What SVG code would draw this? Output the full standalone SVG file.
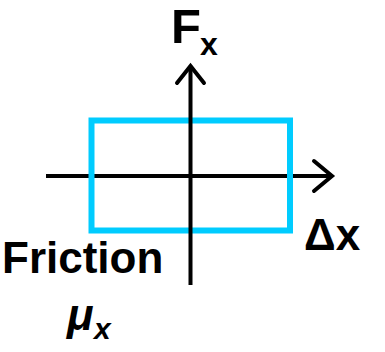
<svg xmlns="http://www.w3.org/2000/svg" width="385" height="352" viewBox="0 0 385 352">
<style>
.ax{stroke:#000;stroke-width:4;fill:none;stroke-linecap:butt}
.hd{stroke:#000;stroke-width:4;fill:none;stroke-linecap:round;stroke-linejoin:miter}
.t{font-family:"Liberation Sans",Arial,sans-serif;font-weight:bold;fill:#000}
</style>
<rect width="385" height="352" fill="#fff"/>
<g id="connectors">
<line class="ax" x1="46" y1="176" x2="331" y2="176"/>
<polyline class="hd" points="314,161 332,176 314,191"/>
</g>
<g id="box">
<rect x="91.5" y="120.5" width="198.5" height="110" fill="none" stroke="#00CCFF" stroke-width="6"/>
</g>
<g id="vaxis">
<line class="ax" x1="190.5" y1="67" x2="190.5" y2="285"/>
<polyline class="hd" points="177,83 190.5,66 204,83"/>
</g>
<g id="label-fx">
<text class="t" x="171" y="43" font-size="49">F</text>
<text class="t" x="200" y="55" font-size="32">x</text>
</g>
<g id="label-dx">
<text class="t" x="304" y="250" font-size="44">Δx</text>
</g>
<g id="label-friction">
<text class="t" x="2" y="273" font-size="44">Friction</text>
<text class="t" x="67" y="330" font-size="44" font-style="italic">μ</text>
<text class="t" x="94" y="339" font-size="30" font-style="italic">x</text>
</g>
</svg>
